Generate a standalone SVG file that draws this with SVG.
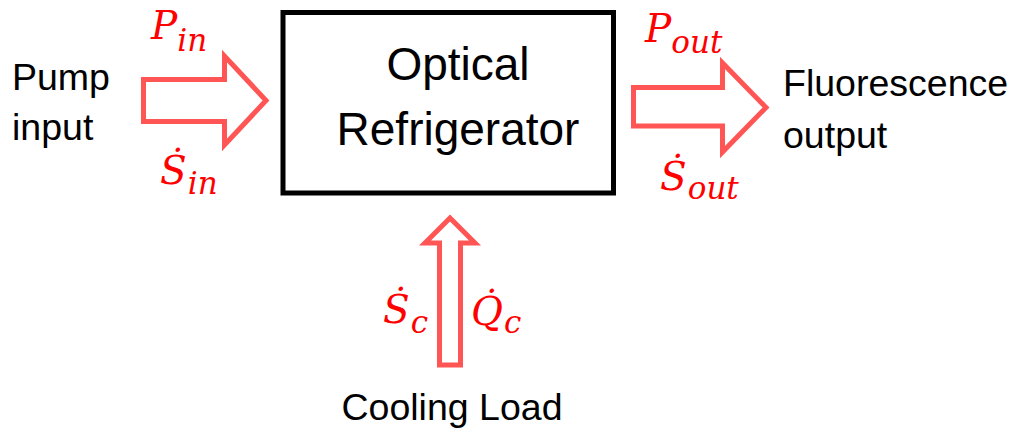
<svg xmlns="http://www.w3.org/2000/svg" width="1014" height="436" viewBox="0 0 1014 436">
<style>
.lbl{font-family:"Liberation Sans",Arial,sans-serif;font-size:37.5px;fill:#000}
.big{font-size:46px}
.mth{font-family:"DejaVu Serif","Liberation Serif",serif;font-style:italic;fill:#FF0000;font-size:39px}
.sub{font-size:31px}
.arr{fill:#fff;stroke:#FF5555;stroke-width:5;stroke-linejoin:miter}
</style>
<rect width="1014" height="436" fill="#fff"/>
<g id="connectors">
<path class="arr" d="M143.5,79.5 H224.5 V56 L266,100.5 L224.5,145 V121.5 H143.5 Z"/>
<path class="arr" d="M633.5,87.5 H722.5 V63 L766,107.5 L722.5,152 V126 H633.5 Z"/>
<path class="arr" d="M439.5,365 V243 H425 L450,218 L475,243 H460.5 V365 Z"/>
</g>
<g id="refrigerator">
<rect x="283" y="12.5" width="330.5" height="180.5" fill="none" stroke="#000" stroke-width="5"/>
<text class="lbl big" x="458" y="80" text-anchor="middle">Optical</text>
<text class="lbl big" x="458" y="145" text-anchor="middle">Refrigerator</text>
</g>
<g id="pump">
<text class="lbl" x="12" y="90">Pump</text>
<text class="lbl" x="12" y="140">input</text>
</g>
<g id="fluorescence">
<text class="lbl" x="783" y="96">Fluorescence</text>
<text class="lbl" x="783" y="148">output</text>
</g>
<g id="cooling">
<text class="lbl" x="452" y="420" text-anchor="middle">Cooling Load</text>
</g>
<g id="labels">
<text class="mth" x="151" y="39">P<tspan class="sub" dx="0" dy="12">in</tspan></text>
<text class="mth" x="160" y="184">S&#775;<tspan class="sub" dx="1" dy="10">in</tspan></text>
<text class="mth" x="645" y="42">P<tspan class="sub" dx="0" dy="11">out</tspan></text>
<text class="mth" x="660" y="190">S&#775;<tspan class="sub" dx="1" dy="9">out</tspan></text>
<text class="mth" x="383" y="323">S&#775;<tspan class="sub" dx="1" dy="10">c</tspan></text>
<text class="mth" x="471" y="325">Q&#775;<tspan class="sub" dx="1" dy="8">c</tspan></text>
</g>
</svg>
